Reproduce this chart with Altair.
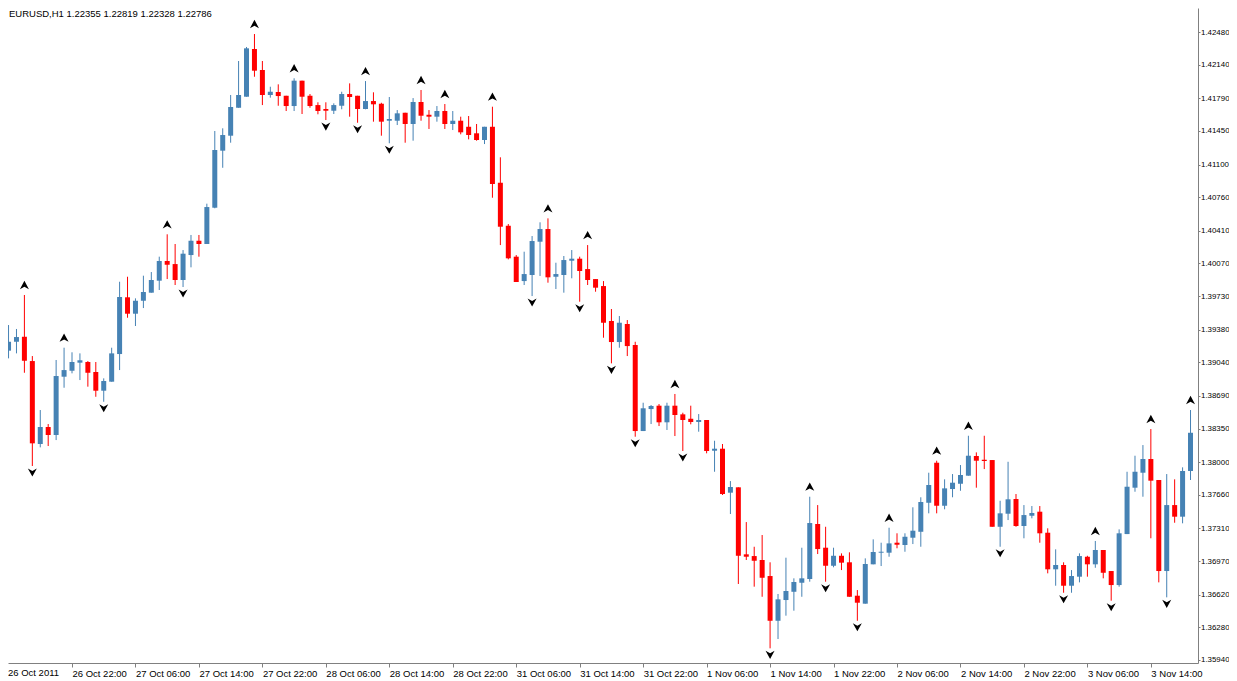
import json
import altair as alt
import pandas as pd

# ---- EURUSD H1 candles ----
opens = [1.39161, 1.39254, 1.39306, 1.39053, 1.38189, 1.38366, 1.38283, 1.38890, 1.38952, 1.39036,
         1.39043, 1.38939, 1.38744, 1.38838, 1.39126, 1.39717, 1.39546, 1.39681, 1.39765, 1.39890,
         1.40095, 1.40063, 1.39897, 1.40157, 1.40306, 1.40272, 1.40650, 1.41244, 1.41400, 1.41691,
         1.41806, 1.42303, 1.42084, 1.41824, 1.41855, 1.41816, 1.41709, 1.41973, 1.41816, 1.41719,
         1.41678, 1.41660, 1.41712, 1.41834, 1.41816, 1.41678, 1.41761, 1.41733, 1.41556, 1.41556,
         1.41639, 1.41522, 1.41751, 1.41618, 1.41598, 1.41657, 1.41522, 1.41556, 1.41493, 1.41425,
         1.41355, 1.41493, 1.40910, 1.40462, 1.40140, 1.39886, 1.39949, 1.40296, 1.40428, 1.39931,
         1.39949, 1.40098, 1.40119, 1.40011, 1.39907, 1.39834, 1.39470, 1.39251, 1.39439, 1.39220,
         1.38324, 1.38553, 1.38588, 1.38415, 1.38588, 1.38498, 1.38452, 1.38418, 1.38439, 1.38119,
         1.38140, 1.37682, 1.37738, 1.37040, 1.37022, 1.36981, 1.36814, 1.36348, 1.36564, 1.36650,
         1.36744, 1.36783, 1.37356, 1.37109, 1.36921, 1.37025, 1.36957, 1.36609, 1.36526, 1.36936,
         1.37057, 1.37057, 1.37161, 1.37137, 1.37213, 1.37275, 1.37577, 1.37994, 1.37546, 1.37720,
         1.37775, 1.37859, 1.38064, 1.38025, 1.38022, 1.37327, 1.37463, 1.37616, 1.37335, 1.37442,
         1.37484, 1.37265, 1.36884, 1.36929, 1.36713, 1.36807, 1.37015, 1.36936, 1.37085, 1.36866,
         1.36720, 1.37251, 1.37734, 1.37890, 1.38033, 1.37814, 1.36866, 1.37553, 1.37432, 1.37908]

highs = [1.39428, 1.39387, 1.39741, 1.39105, 1.38543, 1.38397, 1.39064, 1.39192, 1.39144, 1.39133,
         1.39053, 1.39043, 1.38873, 1.39192, 1.39879, 1.39931, 1.39706, 1.39942, 1.39980, 1.40140,
         1.40373, 1.40272, 1.40209, 1.40366, 1.40366, 1.40692, 1.41449, 1.41477, 1.41824, 1.42178,
         1.42324, 1.42459, 1.42178, 1.41910, 1.41935, 1.41816, 1.41998, 1.41973, 1.41834, 1.41748,
         1.41748, 1.41737, 1.41858, 1.41945, 1.41816, 1.41969, 1.41852, 1.41743, 1.41803, 1.41667,
         1.41639, 1.41792, 1.41876, 1.41667, 1.41709, 1.41730, 1.41657, 1.41598, 1.41605, 1.41522,
         1.41493, 1.41702, 1.41175, 1.40480, 1.40157, 1.40192, 1.40355, 1.40498, 1.40539, 1.40077,
         1.40147, 1.40209, 1.40140, 1.40261, 1.39907, 1.39886, 1.39595, 1.39522, 1.39480, 1.39254,
         1.38619, 1.38595, 1.38605, 1.38619, 1.38710, 1.38515, 1.38588, 1.38501, 1.38439, 1.38223,
         1.38189, 1.37803, 1.37738, 1.37376, 1.37119, 1.37241, 1.36957, 1.36627, 1.37005, 1.36790,
         1.37109, 1.37640, 1.37553, 1.37327, 1.37109, 1.37050, 1.37061, 1.36668, 1.36998, 1.37196,
         1.37161, 1.37317, 1.37259, 1.37259, 1.37530, 1.37634, 1.37890, 1.38015, 1.37821, 1.37876,
         1.37970, 1.38275, 1.38102, 1.38275, 1.38022, 1.37598, 1.38004, 1.37668, 1.37553, 1.37543,
         1.37543, 1.37311, 1.37092, 1.36957, 1.36876, 1.37050, 1.37025, 1.37179, 1.37085, 1.36866,
         1.37300, 1.37900, 1.38067, 1.38178, 1.38345, 1.37814, 1.37876, 1.37821, 1.37946, 1.38543]

lows = [1.39081, 1.39133, 1.38931, 1.37960, 1.38154, 1.38168, 1.38230, 1.38775, 1.38925, 1.38855,
        1.38786, 1.38681, 1.38629, 1.38838, 1.38959, 1.39504, 1.39418, 1.39605, 1.39765, 1.39793,
        1.39907, 1.39845, 1.39824, 1.40029, 1.40140, 1.40272, 1.40644, 1.41066, 1.41327, 1.41691,
        1.41806, 1.42014, 1.41719, 1.41796, 1.41712, 1.41657, 1.41657, 1.41626, 1.41691, 1.41623,
        1.41563, 1.41626, 1.41675, 1.41598, 1.41535, 1.41675, 1.41546, 1.41400, 1.41321, 1.41511,
        1.41327, 1.41348, 1.41556, 1.41470, 1.41546, 1.41470, 1.41459, 1.41414, 1.41362, 1.41348,
        1.41313, 1.40754, 1.40261, 1.40112, 1.39876, 1.39845, 1.39730, 1.39939, 1.39869, 1.39803,
        1.39765, 1.39915, 1.39671, 1.39845, 1.39775, 1.39296, 1.39029, 1.39192, 1.39105, 1.38265,
        1.38324, 1.38397, 1.38376, 1.38335, 1.38272, 1.38116, 1.38394, 1.38317, 1.38092, 1.37900,
        1.37658, 1.37460, 1.36731, 1.36981, 1.36703, 1.36598, 1.36061, 1.36158, 1.36401, 1.36453,
        1.36598, 1.36755, 1.37043, 1.36755, 1.36905, 1.36876, 1.36598, 1.36348, 1.36526, 1.36936,
        1.36918, 1.37015, 1.37103, 1.37067, 1.37147, 1.37119, 1.37467, 1.37467, 1.37509, 1.37634,
        1.37702, 1.37859, 1.37734, 1.37928, 1.37327, 1.37119, 1.37397, 1.37327, 1.37207, 1.37415,
        1.37161, 1.36842, 1.36713, 1.36640, 1.36640, 1.36748, 1.36807, 1.36900, 1.36790, 1.36557,
        1.36703, 1.37251, 1.37692, 1.37640, 1.37207, 1.36748, 1.36592, 1.37369, 1.37363, 1.37814]

closes = [1.39254, 1.39303, 1.39056, 1.38196, 1.38366, 1.38283, 1.38897, 1.38959, 1.39043, 1.39061,
          1.38931, 1.38744, 1.38845, 1.39133, 1.39720, 1.39546, 1.39681, 1.39772, 1.39897, 1.40095,
          1.40056, 1.39897, 1.40171, 1.40306, 1.40272, 1.40657, 1.41251, 1.41407, 1.41699, 1.41824,
          1.42310, 1.42077, 1.41824, 1.41858, 1.41813, 1.41709, 1.41973, 1.41806, 1.41709, 1.41657,
          1.41660, 1.41719, 1.41834, 1.41803, 1.41678, 1.41761, 1.41727, 1.41546, 1.41574, 1.41633,
          1.41522, 1.41751, 1.41608, 1.41598, 1.41657, 1.41522, 1.41556, 1.41435, 1.41407, 1.41355,
          1.41493, 1.40897, 1.40452, 1.40123, 1.39876, 1.39959, 1.40303, 1.40428, 1.39925, 1.39959,
          1.40105, 1.40119, 1.39991, 1.39897, 1.39817, 1.39452, 1.39251, 1.39452, 1.39209, 1.38324,
          1.38561, 1.38585, 1.38415, 1.38588, 1.38491, 1.38439, 1.38418, 1.38439, 1.38116, 1.38140,
          1.37668, 1.37741, 1.37025, 1.37015, 1.36973, 1.36796, 1.36348, 1.36571, 1.36658, 1.36752,
          1.36790, 1.37366, 1.37095, 1.36921, 1.37025, 1.36953, 1.36598, 1.36536, 1.36939, 1.37064,
          1.37067, 1.37154, 1.37140, 1.37223, 1.37286, 1.37585, 1.37762, 1.37546, 1.37727, 1.37786,
          1.37866, 1.38067, 1.38015, 1.38012, 1.37327, 1.37467, 1.37613, 1.37335, 1.37449, 1.37470,
          1.37259, 1.36884, 1.36929, 1.36713, 1.36814, 1.37022, 1.36936, 1.37085, 1.36848, 1.36720,
          1.37259, 1.37744, 1.37900, 1.38033, 1.37807, 1.36866, 1.37553, 1.37432, 1.37908, 1.38306]

# fractal markers (bar indices)
up_fractals = [2, 7, 20, 31, 36, 45, 52, 55, 61, 68, 73, 84, 101, 111, 117, 121, 137, 144, 149]
down_fractals = [3, 12, 22, 40, 44, 48, 66, 72, 76, 79, 85, 96, 103, 107, 125, 133, 139, 146]

# axis texts (one label every 8 bars)
x_labels = ["26 Oct 2011", "26 Oct 22:00", "27 Oct 06:00", "27 Oct 14:00", "27 Oct 22:00",
            "28 Oct 06:00", "28 Oct 14:00", "28 Oct 22:00", "31 Oct 06:00", "31 Oct 14:00",
            "31 Oct 22:00", "1 Nov 06:00", "1 Nov 14:00", "1 Nov 22:00", "2 Nov 06:00",
            "2 Nov 14:00", "2 Nov 22:00", "3 Nov 06:00", "3 Nov 14:00"]
y_ticks = [1.42480, 1.42140, 1.41790, 1.41450, 1.41100, 1.40760, 1.40410, 1.40070, 1.39730, 1.39380,
           1.39040, 1.38690, 1.38350, 1.38000, 1.37660, 1.37310, 1.36970, 1.36620, 1.36280, 1.35940]
header = "EURUSD,H1  1.22355 1.22819 1.22328 1.22786"

n = len(opens)
df = pd.DataFrame({"i": list(range(n)), "open": opens, "high": highs, "low": lows, "close": closes})
df["dir"] = ["up" if c >= o else "down" for o, c in zip(opens, closes)]

up_df = pd.DataFrame({"i": up_fractals, "price": [highs[i] for i in up_fractals]})
dn_df = pd.DataFrame({"i": down_fractals, "price": [lows[i] for i in down_fractals]})

FONT = "Liberation Sans"
GRAY = "#808080"
W, H = 1190, 655
X0 = 0.5625  # bar index at the left edge of the plot (8 px per bar)

x_scale = alt.Scale(domain=[X0, X0 + W / 8], nice=False, zero=False)
y_scale = alt.Scale(domain=[1.359082, 1.427300], nice=False, zero=False)

x_axis = alt.Axis(values=list(range(8, n, 8)),
                  labelExpr=json.dumps(x_labels) + "[round(datum.value / 8)]",
                  labelAlign="left", labelBaseline="top", labelPadding=1,
                  tickSize=4, tickColor=GRAY, domainColor=GRAY,
                  labelColor="#000000", labelFont=FONT, labelFontSize=9.5,
                  grid=False, title="", labelOverlap=False, labelFlush=False, labelBound=False)
y_axis = alt.Axis(orient="right", values=y_ticks, format=".5f",
                  tickSize=2, tickColor=GRAY, domainColor=GRAY, labelPadding=0.5,
                  labelColor="#000000", labelFont=FONT, labelFontSize=7.9,
                  labelBaseline="middle", grid=False, title="",
                  labelOverlap=False, labelFlush=False, labelBound=False)

color = alt.Color("dir:N", scale=alt.Scale(domain=["up", "down"], range=["#4682B4", "#FF0000"]), legend=None)


def X():
    return alt.X("i:Q", scale=x_scale, axis=x_axis)


base = alt.Chart(df)

wicks = base.mark_rule(strokeWidth=1).encode(
    x=X(), y=alt.Y("low:Q", scale=y_scale, axis=y_axis), y2="high:Q", color=color)

bodies = base.mark_bar(size=5).encode(
    x=X(), y=alt.Y("open:Q", scale=y_scale, axis=y_axis), y2="close:Q", color=color)

UP_PATH = "M0,-3.15L1,-1.3L0,-1.85L-1,-1.3Z"
DN_PATH = "M0,2.35L1,0.55L0,1.1L-1,0.55Z"

up_pts = alt.Chart(up_df).mark_point(shape=UP_PATH, filled=True, size=81, color="#000000",
                                     opacity=1, strokeWidth=0).encode(
    x=X(), y=alt.Y("price:Q", scale=y_scale, axis=y_axis))
dn_pts = alt.Chart(dn_df).mark_point(shape=DN_PATH, filled=True, size=81, color="#000000",
                                     opacity=1, strokeWidth=0).encode(
    x=X(), y=alt.Y("price:Q", scale=y_scale, axis=y_axis))

head = alt.Chart(pd.DataFrame({"t": [header]})).mark_text(
    align="left", baseline="top", font=FONT, fontSize=9.5, color="#000000").encode(
    x=alt.value(1), y=alt.value(0.5), text="t:N")

first_label = alt.Chart(pd.DataFrame({"t": [x_labels[0]]})).mark_text(
    align="left", baseline="top", font=FONT, fontSize=9.5, color="#000000").encode(
    x=alt.value(0), y=alt.value(H + 5), text="t:N")

chart = alt.layer(wicks, bodies, up_pts, dn_pts, head, first_label).properties(
    width=W, height=H,
    padding={"left": 0, "top": 0, "right": 31, "bottom": 14},
    autosize=alt.AutoSizeParams(type="none"),
    background="white",
).configure_view(strokeWidth=0)

chart.save("out.html", embed_options={"renderer": "svg", "actions": False})
